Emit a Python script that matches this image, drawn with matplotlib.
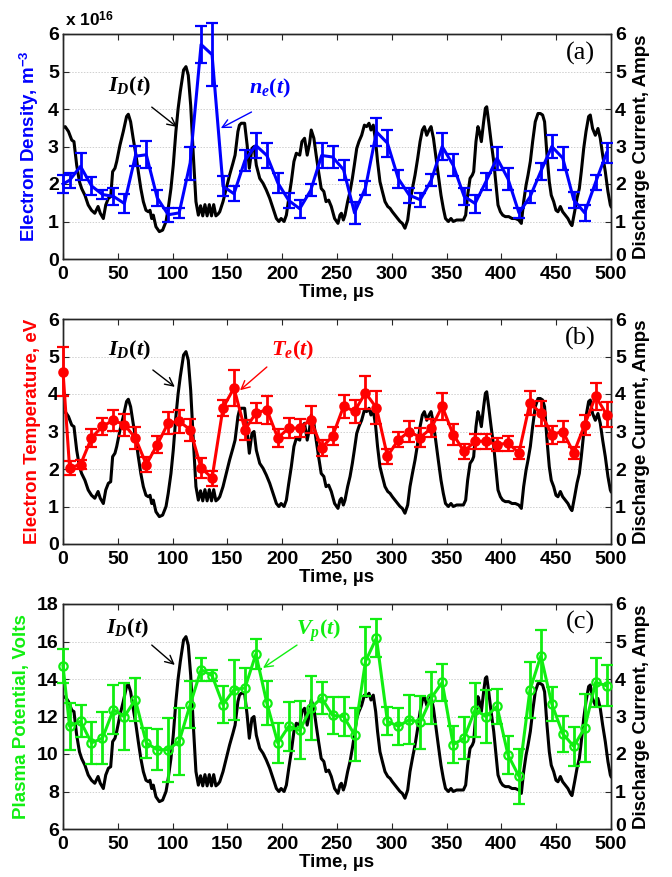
import matplotlib
matplotlib.use("Agg")
import matplotlib.pyplot as plt
import matplotlib.transforms as mtransforms

plt.rcParams['font.family'] = ['Liberation Sans', 'DejaVu Sans']
plt.rcParams['font.weight'] = 'bold'
plt.rcParams['mathtext.fontset'] = 'custom'
plt.rcParams['mathtext.it'] = 'Liberation Serif:italic:bold'
plt.rcParams['mathtext.rm'] = 'Liberation Serif:bold'
plt.rcParams['mathtext.bf'] = 'Liberation Sans:bold'

# ---------------- data ----------------
# discharge current I_D(t), Amps
id_time = [0, 2, 5, 8, 10, 12.5, 15, 17, 20, 23, 26, 29, 32, 34, 36.8, 39, 41.4, 43.5, 45.3, 47.4,
           49, 52, 55, 58, 59.6, 61.7, 64, 66.6, 68.7, 71, 73.3, 75.7, 77.9, 79.4, 80.9, 82.4, 84.8,
           87.9, 90.9, 94, 96, 98.5, 100.6, 103, 105, 107, 110, 112.2, 114.3, 116.5, 118.9, 121.3,
           123.5, 125.5, 127.5, 129.5, 131.5, 133.5, 135.5, 137.5, 139.5, 141.5, 143, 146, 149, 152,
           155, 157, 159.6, 161, 162.7, 165.7, 168, 170, 172.4, 174.3, 176.4, 179.5, 182.5, 185.5,
           188.6, 191.6, 194.7, 197, 199, 201.7, 203.8, 206, 208.3, 210.7, 212.9, 216, 218, 220.4,
           222.8, 225, 226.5, 228.9, 231, 233.2, 235.6, 238, 240, 242.4, 244.8, 247.8, 250.9, 252.7,
           254, 255.8, 257.3, 259.7, 261.9, 264, 265.8, 268, 270, 272.5, 275, 277, 279.2, 281, 283.1,
           285.3, 287, 289.2, 291.4, 293.8, 296.3, 298.4, 300.5, 302.9, 305.4, 307.5, 309.6, 312,
           314.5, 316.6, 318.8, 321.2, 323.6, 325.8, 327.9, 329.7, 331.9, 334, 335.8, 338, 340, 342.4,
           344.9, 347, 349, 351.6, 354, 356.1, 359.2, 362.2, 365.3, 367.4, 369.2, 371.4, 373.5, 374.7,
           376.8, 378.6, 379.9, 381.7, 383.8, 385.4, 386.6, 388.4, 390.6, 393, 395.1, 396.9, 399.1,
           401.2, 403.6, 406.7, 409.7, 412.7, 415.8, 418.2, 420.3, 422.5, 424.3, 426.4, 428.5, 430.9,
           433.4, 435.5, 437.6, 439.4, 441.6, 443.7, 445.5, 447.7, 449.8, 451.6, 453.8, 455.9, 458.3,
           460.7, 462.9, 464.4, 466.8, 469, 471.1, 472.9, 475.1, 477.2, 479.6, 481.1, 483.2, 485.7,
           488.1, 490.2, 492.4, 494.8, 497.2, 499.4, 500]
id_amp = [3.5, 3.53, 3.4, 3.17, 3.13, 2.5, 2.06, 1.88, 1.7, 1.44, 1.3, 1.22, 1.4, 1.22, 1.08, 1.44,
          1.62, 1.66, 2.33, 2.42, 2.6, 3.04, 3.4, 3.8, 3.86, 3.66, 3.22, 2.77, 2.33, 1.88, 1.53, 1.3,
          1.26, 1.3, 1.08, 1.17, 0.86, 0.73, 0.77, 1.0, 1.35, 1.88, 2.5, 3.4, 4.0, 4.46, 5.04, 5.13,
          4.9, 4.1, 2.77, 1.53, 1.17, 1.42, 1.15, 1.45, 1.15, 1.45, 1.15, 1.45, 1.15, 1.2, 1.26, 1.53,
          1.88, 2.24, 2.55, 2.77, 3.4, 3.57, 3.62, 3.62, 3.04, 2.42, 2.95, 3.0, 2.5, 2.15, 2.02, 1.84,
          1.62, 1.35, 1.08, 1.0, 1.08, 1.0, 1.17, 1.62, 2.06, 2.6, 2.82, 2.77, 3.13, 3.22, 2.77, 3.09,
          3.44, 3.22, 2.77, 2.33, 1.88, 1.8, 1.53, 1.57, 1.4, 1.08, 0.95, 1.17, 1.22, 1.04, 1.17, 1.53,
          1.8, 2.15, 2.5, 2.95, 3.13, 3.3, 3.57, 3.53, 3.62, 3.44, 3.57, 3.13, 2.6, 2.06, 1.8, 1.53,
          1.4, 1.35, 1.26, 1.17, 1.08, 1.0, 0.95, 0.82, 1.04, 1.53, 1.88, 2.24, 2.68, 3.13, 3.44,
          3.53, 3.3, 3.44, 3.53, 3.22, 2.77, 2.24, 1.7, 1.35, 1.08, 1.0, 1.08, 1.0, 1.04, 1.04, 1.04,
          1.17, 1.7, 2.15, 2.24, 2.33, 3.13, 3.53, 3.4, 3.13, 3.66, 4.02, 4.06, 3.66, 3.13, 2.6, 1.97,
          1.44, 1.26, 1.17, 1.13, 1.13, 1.08, 1.08, 1.04, 0.95, 1.53, 1.97, 2.24, 2.6, 3.13, 3.66,
          3.88, 3.88, 3.84, 3.66, 2.77, 2.06, 1.7, 1.53, 1.3, 1.26, 1.4, 1.26, 1.17, 1.08, 0.95, 0.89,
          1.26, 1.62, 1.88, 2.33, 2.95, 3.4, 3.8, 3.84, 3.48, 3.3, 3.48, 3.22, 2.77, 2.33, 1.8, 1.44,
          1.4]

# probe measurement times, microseconds
t_pts = [0, 6, 16, 26, 36, 46, 56, 66, 76, 86, 96, 106, 116, 126, 136, 146, 156, 166, 176, 186,
         196, 206, 216, 226, 236, 246, 256, 266, 276, 286, 296, 306, 316, 326, 336, 346, 356, 366,
         376, 386, 396, 406, 416, 426, 436, 446, 456, 466, 476, 486, 496]

# electron density (x 1e16 m^-3)
ne = [2.0, 2.1, 2.47, 1.95, 1.72, 1.67, 1.48, 2.74, 2.78, 1.63, 1.18, 1.23, 2.56, 5.72, 5.45, 1.94,
      1.74, 2.63, 3.03, 2.76, 2.03, 1.56, 1.34, 1.83, 2.76, 2.72, 2.38, 1.23, 1.9, 3.39, 3.09, 2.14,
      1.7, 1.58, 2.1, 3.0, 2.5, 1.67, 1.48, 2.07, 2.69, 2.14, 1.23, 1.65, 2.34, 3.0, 2.69, 1.58, 1.23,
      2.05, 2.83]
ne_err = [0.25, 0.2, 0.36, 0.25, 0.13, 0.22, 0.25, 0.27, 0.36, 0.22, 0.18, 0.13, 0.44, 0.5, 0.85,
          0.27, 0.2, 0.29, 0.33, 0.33, 0.27, 0.2, 0.24, 0.16, 0.33, 0.29, 0.27, 0.3, 0.18, 0.38, 0.36,
          0.24, 0.2, 0.18, 0.16, 0.36, 0.29, 0.22, 0.24, 0.22, 0.31, 0.29, 0.13, 0.16, 0.22, 0.31,
          0.31, 0.22, 0.22, 0.2, 0.27]

# electron temperature, eV
te = [4.6, 2.03, 2.12, 2.83, 3.14, 3.3, 3.18, 2.83, 2.12, 2.65, 3.23, 3.27, 3.05, 2.03, 1.76, 3.63,
      4.16, 3.05, 3.49, 3.58, 2.83, 3.09, 3.09, 3.32, 2.56, 2.88, 3.67, 3.54, 4.03, 3.63, 2.34, 2.78,
      3.0, 2.84, 3.09, 3.67, 2.92, 2.47, 2.74, 2.74, 2.65, 2.69, 2.43, 3.76, 3.49, 2.92, 3.0, 2.43,
      3.18, 3.94, 3.45]
te_err = [0.65, 0.18, 0.13, 0.24, 0.22, 0.28, 0.29, 0.29, 0.2, 0.22, 0.29, 0.31, 0.29, 0.27, 0.2,
          0.22, 0.49, 0.27, 0.27, 0.38, 0.24, 0.27, 0.24, 0.36, 0.22, 0.25, 0.31, 0.31, 0.44, 0.44,
          0.2, 0.2, 0.27, 0.25, 0.24, 0.36, 0.27, 0.2, 0.2, 0.2, 0.18, 0.2, 0.16, 0.31, 0.33, 0.24,
          0.27, 0.16, 0.27, 0.36, 0.33]

# plasma potential, Volts
vp = [14.7, 11.48, 11.74, 10.59, 10.85, 12.36, 12.0, 12.9, 10.59, 10.23, 10.23, 10.68, 12.63, 14.5,
      14.18, 12.63, 13.43, 13.52, 15.33, 12.72, 10.59, 11.48, 11.26, 12.45, 12.99, 12.06, 12.0,
      11.03, 14.94, 16.19, 11.74, 11.48, 11.83, 11.69, 12.99, 13.82, 10.5, 10.85, 12.36, 12.0,
      12.54, 9.96, 8.81, 13.4, 15.24, 12.67, 11.08, 10.41, 11.39, 13.82, 13.64]
vp_err = [0.9, 1.25, 0.85, 1.1, 1.4, 1.3, 1.8, 1.15, 0.8, 1.1, 1.7, 1.8, 1.25, 0.6, 0.3, 1.0, 1.6,
          1.05, 0.8, 1.15, 1.05, 1.3, 1.55, 1.7, 0.85, 1.0, 1.05, 1.4, 1.85, 1.0, 0.75, 1.0, 1.3, 1.4,
          1.4, 1.0, 1.0, 1.1, 1.45, 1.4, 0.95, 1.0, 1.45, 1.5, 1.35, 0.9, 0.95, 1.05, 1.8, 1.3, 1.1]

x_ticks = [0, 50, 100, 150, 200, 250, 300, 350, 400, 450, 500]
right_ticks = [0, 1, 2, 3, 4, 5, 6]

BLUE = '#0000ff'
RED = '#ff0000'
GREEN = '#11ee11'
FS_TICK = 14
FS_LAB = 13.5
SPINE = '#262626'

fig = plt.figure(figsize=(6.72, 8.77), dpi=100)
W, H = 672.0, 877.0
left, right = 63, 611


def make_panel(top, bottom, series, err, color, ylab, ylim, yticks, marker, mfc,
               letter, ann, series_label):
    ax = fig.add_axes([left / W, 1 - bottom / H, (right - left) / W, (bottom - top) / H])
    axr = ax.twinx()
    ax.set_zorder(axr.get_zorder() + 1)
    ax.patch.set_visible(False)

    # black discharge current on right axis
    axr.plot(id_time, id_amp, color='black', lw=2.2, zorder=2)
    axr.set_ylim(0, 6)
    axr.set_yticks(right_ticks)
    axr.set_axisbelow(True)
    axr.grid(True, which='major', axis='both', color='#d0d0d0', lw=0.7, ls=(0, (1.5, 1.5)))
    axr.set_ylabel('Discharge Current, Amps', fontsize=FS_LAB, fontweight='bold', labelpad=5)

    ax.errorbar(t_pts, series, yerr=err, color=color, lw=2.2, elinewidth=2.0, capsize=4.5,
                capthick=2.0, marker=marker, ms=6 if marker else 0, mfc=mfc, mec=color,
                mew=1.6, clip_on=False, zorder=3)
    ax.set_xlim(0, 500)
    ax.set_ylim(*ylim)
    ax.set_yticks(yticks)
    ax.set_xticks(x_ticks)
    ax.set_ylabel(ylab, color=color, fontsize=FS_LAB, fontweight='bold', labelpad=5)
    ax.set_xlabel('Time, \u00b5s', fontsize=FS_LAB, fontweight='bold', labelpad=1)

    for a in (ax, axr):
        for s in a.spines.values():
            s.set_color(SPINE)
            s.set_linewidth(1.0)
    ax.tick_params(axis='x', direction='in', length=4, width=0.8, color=SPINE,
                   labelsize=FS_TICK, pad=5, top=True)
    ax.tick_params(axis='y', direction='in', length=4, width=0.8, color=SPINE,
                   labelsize=FS_TICK, pad=3)
    axr.tick_params(axis='y', direction='in', length=4, width=0.8, color=SPINE,
                    labelsize=FS_TICK, pad=3)
    for lab in ax.get_xticklabels() + ax.get_yticklabels() + axr.get_yticklabels():
        lab.set_fontweight('bold')
    return ax, axr, ann, series_label, color, letter


panels = []
panels.append(make_panel(34, 259, ne, ne_err, BLUE, 'Electron Density, m$^{\\mathbf{-3}}$', (0, 6),
                         [0, 1, 2, 3, 4, 5, 6], None, BLUE, ('(a)', 472, 5.49),
                         ((61, 4.59), (81, 4.05), (104, 3.52), (189, 4.56), (172, 3.92), (144, 3.49)),
                         r'$\mathit{n_e(t)}$'))
panels.append(make_panel(319, 544, te, te_err, RED, 'Electron Temperature, eV', (0, 6),
                         [0, 1, 2, 3, 4, 5, 6], 'o', RED, ('(b)', 472, 5.49),
                         ((61, 5.17), (82, 4.64), (102, 4.19), (209, 5.17), (186, 4.72), (161.5, 4.1)),
                         r'$\mathit{T_e(t)}$'))
panels.append(make_panel(604, 829, vp, vp_err, GREEN, 'Plasma Potential, Volts', (6, 18),
                         [6, 8, 10, 12, 14, 16, 18], 'o', 'none', ('(c)', 472, 16.99),
                         ((59, 16.72), (81, 15.81), (102, 14.75), (233, 16.6), (213.5, 15.81), (182.5, 14.59)),
                         r'$\mathit{V_p(t)}$'))

for ax, axr, ann, series_label, color, letter in panels:
    (id_txt, id_tail, id_tip, s_txt, s_tail, s_tip) = ann
    ax.text(id_txt[0], id_txt[1], r'$\mathit{I_D(t)}$', fontsize=16, color='black',
            ha='center', va='center', zorder=5)
    ax.annotate('', xy=id_tip, xytext=id_tail,
                arrowprops=dict(arrowstyle='->,head_length=0.6,head_width=0.3', color='black',
                                lw=1.0, shrinkA=0, shrinkB=0), zorder=5)
    ax.text(s_txt[0], s_txt[1], series_label, fontsize=16, color=color,
            ha='center', va='center', zorder=5)
    ax.annotate('', xy=s_tip, xytext=s_tail,
                arrowprops=dict(arrowstyle='->,head_length=0.6,head_width=0.3', color=color,
                                lw=1.0, shrinkA=0, shrinkB=0), zorder=5)
    ax.text(letter[1], letter[2], letter[0], fontsize=19, color='black', family='Liberation Serif',
            fontweight='normal', ha='center', va='center', zorder=5)

panels[0][0].text(0.004, 1.02, r'x 10$^{\mathbf{16}}$', transform=panels[0][0].transAxes,
                  fontsize=12.5, fontweight='bold', ha='left', va='bottom')

# nudge the right-hand "0" label up slightly so it does not collide with "500"
fig.canvas.draw()
for ax, axr, *_ in panels:
    lab0 = axr.yaxis.get_major_ticks()[0].label2
    lab0.set_transform(lab0.get_transform() +
                       mtransforms.ScaledTranslation(0, 3 / 72.0, fig.dpi_scale_trans))

fig.savefig('out.png', dpi=100)
